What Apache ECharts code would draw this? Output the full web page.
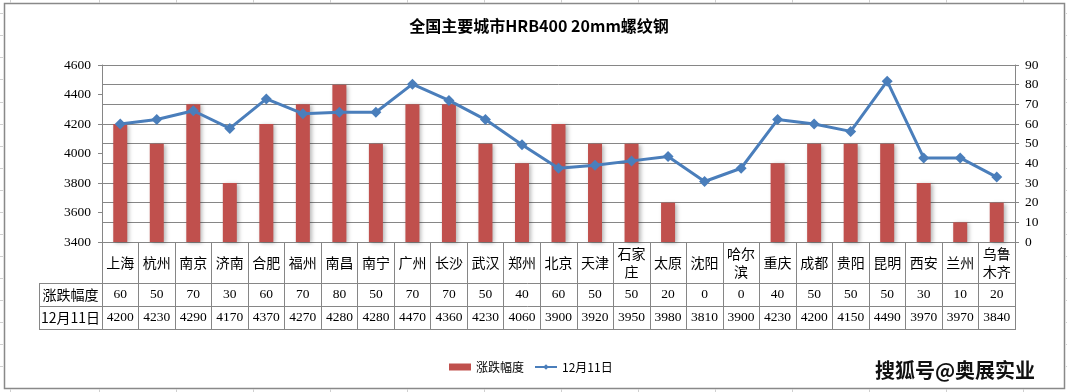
<!DOCTYPE html>
<html>
<head>
<meta charset="utf-8">
<script src="https://cdn.jsdelivr.net/npm/echarts@6/dist/echarts.min.js"></script>
<style>
html,body{margin:0;padding:0;background:#fff;}
#c{width:1067px;height:392px;}
</style>
</head>
<body>
<div id="c"></div>
<script>
const cities = ['上海','杭州','南京','济南','合肥','福州','南昌','南宁','广州','长沙','武汉','郑州','北京','天津','石家庄','太原','沈阳','哈尔滨','重庆','成都','贵阳','昆明','西安','兰州','乌鲁木齐'];
const cityLabels = ['上海','杭州','南京','济南','合肥','福州','南昌','南宁','广州','长沙','武汉','郑州','北京','天津','石家\n庄','太原','沈阳','哈尔\n滨','重庆','成都','贵阳','昆明','西安','兰州','乌鲁\n木齐'];
const changeValues = [60,50,70,30,60,70,80,50,70,70,50,40,60,50,50,20,0,0,40,50,50,50,30,10,20];
const priceValues = [4200,4230,4290,4170,4370,4270,4280,4280,4470,4360,4230,4060,3900,3920,3950,3980,3810,3900,4230,4200,4150,4490,3970,3970,3840];
const seriesNames = ['涨跌幅度','12月11日'];
const titleText = '全国主要城市HRB400 20mm螺纹钢';
const watermark = '搜狐号@奥展实业';

const G = {left:102, right:1015, top:65, bottom:242};
const rowY = [242, 283, 306, 329];
const headX = 39;
const lineC = '#868686';
const serif = '"Liberation Serif", "DejaVu Serif", serif';
const cjk = '"Noto Sans CJK SC", sans-serif';

const chart = echarts.init(document.getElementById('c'), null, {renderer:'canvas'});

const sheetCols = [10,99,176,253,330,407,484,561,638,715,792,869,946,1023];
const deco = [];
sheetCols.forEach(x => {
  deco.push({type:'line', shape:{x1:x+0.5,y1:0,x2:x+0.5,y2:3}, style:{stroke:'#d0d0d0',lineWidth:1}, silent:true});
  deco.push({type:'line', shape:{x1:x+0.5,y1:389,x2:x+0.5,y2:392}, style:{stroke:'#d0d0d0',lineWidth:1}, silent:true});
});
[13,35,57,79,102,124,146,168,190,212,234,256,278,300,322,344,366].forEach(y => {
  deco.push({type:'line', shape:{x1:0,y1:y+0.5,x2:3,y2:y+0.5}, style:{stroke:'#d0d0d0',lineWidth:1}, silent:true});
  deco.push({type:'line', shape:{x1:1066,y1:y+0.5,x2:1067,y2:y+0.5}, style:{stroke:'#d0d0d0',lineWidth:1}, silent:true});
});

const tableLines = [];
[rowY[1], rowY[2], rowY[3]].forEach(y => {
  tableLines.push({type:'line', z:10, shape:{x1:headX, y1:y+0.5, x2:G.right+0.5, y2:y+0.5}, style:{stroke:lineC, lineWidth:1}, silent:true});
});
tableLines.push({type:'line', z:10, shape:{x1:headX+0.5, y1:rowY[1], x2:headX+0.5, y2:rowY[3]+1}, style:{stroke:lineC, lineWidth:1}, silent:true});

const option = {
  backgroundColor:'#fff',
  animation:false,
  title:{
    text:titleText, left:534, top:13, textAlign:'center',
    textStyle:{fontFamily:'"Noto Sans CJK SC", sans-serif', fontSize:16, fontWeight:'bold', color:'#000'}
  },
  legend:{
    left:444, top:356, itemGap:10, itemWidth:22, itemHeight:7,
    textStyle:{fontFamily:cjk, fontSize:12, color:'#000'},
    data:[{name:seriesNames[0], icon:'rect'}, {name:seriesNames[1]}]
  },
  grid:{left:G.left, right:1067-G.right, top:G.top, bottom:392-G.bottom, containLabel:false},
  xAxis:[
    {
      type:'category', data:cities, position:'bottom', boundaryGap:true,
      axisLine:{show:true, lineStyle:{color:lineC, width:1}},
      axisTick:{show:true, interval:0, length:rowY[3]-rowY[0]+1, inside:false, lineStyle:{color:lineC, width:1}},
      axisLabel:{interval:0, margin:(rowY[1]-rowY[0])/2, verticalAlign:'middle', lineHeight:18,
        fontFamily:cjk, fontSize:14, color:'#000',
        formatter:(v, i) => cityLabels[i]}
    },
    {
      type:'category', data:changeValues.map(String), position:'bottom',
      axisLine:{show:false}, axisTick:{show:false},
      axisLabel:{interval:0, margin:(rowY[1]+rowY[2])/2-rowY[0], verticalAlign:'middle',
        fontFamily:serif, fontSize:13.5, color:'#000'}
    },
    {
      type:'category', data:priceValues.map(String), position:'bottom',
      axisLine:{show:false}, axisTick:{show:false},
      axisLabel:{interval:0, margin:(rowY[2]+rowY[3])/2-rowY[0], verticalAlign:'middle',
        fontFamily:serif, fontSize:13.5, color:'#000'}
    }
  ],
  yAxis:[
    {
      type:'value', min:3400, max:4600, interval:200, position:'left',
      axisLine:{show:true, lineStyle:{color:lineC}},
      axisTick:{show:true, length:4, lineStyle:{color:lineC}},
      splitLine:{show:false},
      axisLabel:{margin:11, fontFamily:serif, fontSize:13.5, color:'#000', formatter:v => String(v)}
    },
    {
      type:'value', min:0, max:90, interval:10, position:'right',
      axisLine:{show:true, lineStyle:{color:lineC}},
      axisTick:{show:true, length:4, lineStyle:{color:lineC}},
      splitLine:{show:true, lineStyle:{color:lineC, width:1}},
      axisLabel:{margin:10, fontFamily:serif, fontSize:13.5, color:'#000', formatter:v => String(v)}
    }
  ],
  series:[
    {
      name:seriesNames[0], type:'bar', xAxisIndex:0, yAxisIndex:1, data:changeValues,
      barWidth:14,
      itemStyle:{color:'#C0504D', shadowColor:'rgba(0,0,0,0.28)', shadowBlur:4, shadowOffsetX:2, shadowOffsetY:1}
    },
    {
      name:seriesNames[1], type:'line', xAxisIndex:0, yAxisIndex:0, data:priceValues,
      z:5,
      symbol:'diamond', symbolSize:11,
      lineStyle:{color:'#4A7EBB', width:3},
      itemStyle:{color:'#4A7EBB'}
    }
  ],
  graphic:[
    {type:'rect', z:0, shape:{x:4.5, y:3.5, width:1060, height:385}, style:{fill:'#fff', stroke:'#898989', lineWidth:1.5}, silent:true},
    ...deco,
    ...tableLines,
    {type:'text', z:10, x:(headX+G.left)/2, y:(rowY[1]+rowY[2])/2,
      style:{text:'涨跌幅度', fontFamily:cjk, fontSize:14, fill:'#000', align:'center', verticalAlign:'middle'}},
    {type:'text', z:10, x:(headX+G.left)/2, y:(rowY[2]+rowY[3])/2,
      style:{text:'12月11日', fontFamily:cjk, fontSize:14, fill:'#000', align:'center', verticalAlign:'middle'}},
    {type:'text', z:10, x:955, y:370,
      style:{text:watermark, fontFamily:cjk, fontSize:20, fontWeight:'bold', fill:'#111', stroke:'#fff', lineWidth:2, align:'center', verticalAlign:'middle'}}
  ]
};
chart.setOption(option);
</script>
</body>
</html>
